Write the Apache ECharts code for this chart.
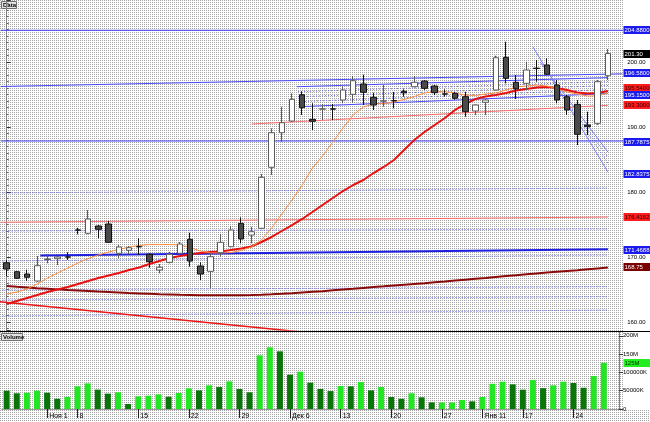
<!DOCTYPE html>
<html><head><meta charset="utf-8">
<script src="https://cdn.jsdelivr.net/npm/echarts@6/dist/echarts.min.js"></script>
<style>
html,body{margin:0;padding:0;background:#fff;}
#c{width:650px;height:422px;}
</style></head><body><div id="c"></div>
<script>
// ---------- data ----------
const categories = ['26','27','28','29','Ноя 1','2','3','8','9','10','11','12','13','15','16','17','18','19','22','23','24','25','26','29','30','1','2','3','Дек 6','7','8','9','10','13','14','15','16','17','20','21','22','23','24','27','28','29','30','Янв 11','12','13','14','17','18','19','20','21','24','25','26','27',''];
const labelIndices = [4,7,13,18,23,28,33,38,43,47,51,56];
// [open, close, low, high]
const candles = [
[169.12,168.15,167.08,169.54],[167.74,166.72,166.62,167.85],[167.38,166.88,166.31,168.05],[166.31,168.66,166.2,170.15],
[169.62,169.68,169.03,170.46],[169.74,170.0,168.77,170.2],[170.02,169.98,169.54,170.72],[174.17,174.13,173.49,174.5],
[173.65,175.85,173.5,177.23],[174.77,174.26,172.88,174.92],[175.08,172.26,172.2,175.54],[170.57,171.54,169.8,171.85],
[171.03,171.43,170.42,171.69],[171.6,171.56,170.31,172.88],[170.42,169.28,168.35,170.57],[168.0,168.42,167.49,168.92],
[169.18,170.42,169.03,170.81],[170.57,172.0,170.3,172.3],[172.72,169.38,168.51,173.74],[168.62,167.38,166.46,169.18],
[167.8,170.05,165.18,170.46],[170.66,172.26,170.05,173.54],[171.58,174.15,171.5,174.77],[175.18,172.77,172.1,176.11],
[173.38,173.89,172.1,174.66],[174.42,182.26,174.3,182.77],[183.8,189.12,182.62,189.8],[189.12,190.66,187.74,193.12],
[190.92,194.26,190.8,195.18],[194.97,192.97,191.85,195.49],[191.18,190.88,189.54,193.65],[192.75,192.79,191.08,193.54],
[192.79,192.75,191.08,193.54],[194.15,195.69,193.65,196.2],[195.03,197.12,193.74,197.85],[196.62,195.34,193.38,198.05],
[194.57,193.38,192.62,195.28],[193.98,194.02,193.12,196.46],[194.07,194.03,192.88,195.4],[195.5,195.25,194.66,195.8],
[196.2,196.88,196.1,197.85],[197.08,195.95,195.7,197.23],[196.31,195.28,194.92,196.46],[195.1,195.06,194.66,195.8],
[195.18,194.42,194.2,195.4],[194.66,192.35,191.58,195.43],[192.46,193.38,191.85,193.45],[193.8,194.15,191.85,194.3],
[195.69,200.66,195.6,200.97],[200.72,197.49,196.72,203.12],[196.88,195.85,194.31,198.0],[196.72,198.77,195.69,200.05],
[199.05,199.0,196.97,200.3],[199.54,198.11,198.0,200.57],[196.46,194.15,193.65,197.23],[194.66,192.62,191.85,194.92],
[193.49,188.88,187.23,194.15],[190.31,190.05,188.77,192.35],[190.57,196.97,190.3,197.23],[197.89,201.30,197.23,202.0]
];
// volume in millions
const volumes = [50,43,44.5,50,44.5,28,33,62,70,53,42,45.6,13.7,34.6,36.4,40,33.6,43.7,56.5,51,64.7,60,75.6,54.6,45.6,146.7,168.6,157.6,93.7,102,72,54.6,49,62.8,62,73.8,51,60,32.8,28,43,32,18.2,18,18,24.6,21,32.8,69,74.6,67.4,52.8,79,57,64.7,74.6,71,58,90,126.5];
const volumeUp = [0,0,1,1,0,0,1,1,1,0,0,1,0,1,1,1,0,1,1,0,1,0, 1,0,0,1,1,0,0,1,0,0,0,1,0,1,0,1,0,0,1,0,0, 1,1,1,0,1,1,1,0,0,1,0,1,1,0,0,1,1];
const maShort = [164.31,164.62,165.08,165.85,166.77,167.54,168.31,169.08,169.77,170.31,170.77,171.15,171.54,171.77,171.92,171.92,171.92,171.85,171.46,170.92,170.62,170.62,170.69,171.0,171.54,172.62,174.46,176.62,178.77,181.08,183.69,185.54,187.69,189.85,191.85,193.08,193.54,193.62,193.85,194.23,194.69,195.23,195.43,195.43,195.23,194.92,194.85,195.08,195.23,195.69,196.15,196.31,196.46,196.31,195.85,195.38,195.08,194.77,194.77,195.23];
const maMid = [162.77,163.23,163.69,164.15,164.62,165.0,165.38,165.85,166.31,166.77,167.15,167.54,168.0,168.38,168.92,169.38,169.85,170.15,170.38,170.62,170.77,170.85,171.08,171.31,171.62,172.31,173.08,174.0,174.92,175.85,176.92,178.0,179.08,180.15,181.08,181.85,182.92,183.85,184.92,186.46,188.0,189.23,190.31,191.38,192.62,193.54,194.31,194.69,194.92,195.23,195.62,195.85,196.08,196.15,196.0,195.69,195.31,195.15,195.23,195.54];
const maLong = [165.54,165.42,165.31,165.2,165.11,165.02,164.92,164.85,164.77,164.69,164.62,164.54,164.46,164.4,164.34,164.28,164.23,164.18,164.15,164.12,164.11,164.11,164.11,164.12,164.15,164.2,164.26,164.34,164.43,164.54,164.65,164.75,164.88,165.0,165.12,165.25,165.37,165.49,165.62,165.74,165.86,165.98,166.11,166.23,166.37,166.51,166.65,166.78,166.92,167.06,167.2,167.34,167.48,167.62,167.74,167.86,167.98,168.12,168.25,168.37];
// drawn study lines: [bar index, price] end points
const lineTopLevel = [[-0.7,204.88],[60.5,204.88]];
const lineMidLevel = [[-0.7,187.85],[60.5,187.85]];
const lineLongTrend = [[-0.7,196.23],[60.4,198.18]];
const lineChannelUp = [[28.49,196.2],[59.0,197.6]];
const lineChannelDown = [[28.78,193.12],[59.0,195.15]];
const lineChannelInner = [[[28.6,195.43],[59.0,196.98]],[[28.6,194.66],[59.0,196.38]],[[28.7,193.89],[59.0,195.77]]];
const lineRedTrend = [[24.04,190.46],[59.0,193.34]];
const lineRedLevel = [[-0.7,175.34],[59.0,176.15]];
const lineBlueLevel = [[3.3,170.23],[59.0,171.18]];
const lineRedFalling = [[-0.7,163.12],[59.0,153.74]];
const lineDotted = [[[-0.7,179.85],[59.0,180.62]],[[-0.7,174.0],[59.0,174.31]],[[-0.7,169.38],[59.0,170.31]],[[-0.7,164.92],[59.0,165.43]],[[-0.7,163.38],[59.0,163.89]],[[-0.7,160.92],[59.0,161.85]]];
const lineFanA = [[51.65,202.31],[59.0,183.08]];
const lineFanB = [[52.34,200.0],[59.0,186.15]];
const lineFanInner = [[[53.51,197.23],[59.0,184.46]],[[54.1,195.69],[59.0,185.38]]];
// price boxes on the right scale
const boxTexts = ['204.8800','201.30','196.5800','195.5400','195.1500','193.3000','187.7875','182.8375','176.4162','171.4688','168.75'];
const boxValues = [204.88,201.30,198.35,195.95,194.92,193.38,187.65,182.72,176.15,171.08,168.46];
const boxKinds = ['blue','black','blue','red','blue','red','blue','blue','red','blue','maroon'];
const volumeTicks = {0:'0',50:'50000K',100:'100000K',150:'150M',200:'200M'};
const volumeBoxText = '125M';
const volumeBoxValue = 125.7;

// ---------- background pattern ----------
const cv = document.createElement('canvas'); cv.width = 2; cv.height = 2;
const g = cv.getContext('2d'); g.fillStyle = '#ffffff'; g.fillRect(0,0,2,2);
g.fillStyle = '#a4a4a4'; g.fillRect(0,0,1,1);
document.getElementById('c').style.background = 'url(' + cv.toDataURL() + ')';

const FONT = 'Liberation Sans';
const kindStyle = {
  blue: {bg:'#1a1aee', fg:'#ffffff'},
  black: {bg:'#000000', fg:'#ffffff'},
  red: {bg:'#ff1c1c', fg:'#2a0000'},
  maroon: {bg:'#7a0000', fg:'#ffffff'},
  green: {bg:'#22ee22', fg:'#003300'}
};
function seg(data, color, width, type, z){
  return {type:'line', xAxisIndex:2, yAxisIndex:0, data:data, symbol:'none', silent:true,
    lineStyle:{color:color, width:width, type:type||'solid'}, z:z||2, animation:false};
}

const series = [];
lineDotted.forEach(d => series.push(seg(d,'#4b4bff',1,[1,2],1)));
lineChannelInner.forEach(d => series.push(seg(d,'#6060ff',1,[1,2],1)));
lineFanInner.forEach(d => series.push(seg(d,'#6060ff',1,[1,2],1)));
series.push(seg(lineTopLevel,'#3a3aff',1));
series.push(seg(lineMidLevel,'#3a3aff',1));
series.push(seg(lineLongTrend,'#4848ff',1));
series.push(seg(lineChannelUp,'#4848ff',1));
series.push(seg(lineChannelDown,'#4848ff',1));
series.push(seg(lineFanA,'#7a7aff',1));
series.push(seg(lineFanB,'#7a7aff',1));
series.push(seg(lineRedLevel,'#ff6a6a',1));
series.push(seg(lineRedTrend,'#ff6a6a',1));
series.push(seg(lineBlueLevel,'#1e1ee0',2));
series.push(seg(lineRedFalling,'#ee1414',1.5));
series.push({type:'line', xAxisIndex:0, yAxisIndex:0, data:maLong, symbol:'none', silent:true, lineStyle:{color:'#8a0a0a', width:2}, z:3});
series.push({type:'line', xAxisIndex:0, yAxisIndex:0, data:maMid, symbol:'none', silent:true, lineStyle:{color:'#e81010', width:2}, z:3});
series.push({type:'line', xAxisIndex:0, yAxisIndex:0, data:maShort, symbol:'none', silent:true, lineStyle:{color:'#ff8a3a', width:1}, z:3});
series.push({type:'candlestick', xAxisIndex:0, yAxisIndex:0, data:candles, barWidth:6, silent:true, z:5,
  itemStyle:{color:'#ffffff', color0:'#4a4a4a', borderColor:'#5a5a5a', borderColor0:'#111111', borderWidth:1}});
series.push({type:'bar', xAxisIndex:1, yAxisIndex:1, barWidth:6, silent:true,
  data: volumes.map((v,i) => ({value:v, itemStyle:{color: volumeUp[i] ? '#22e622' : '#0a760a'}}))});

const showLabel = (idx) => labelIndices.indexOf(idx) >= 0;
const chart = echarts.init(document.getElementById('c'), null, {renderer:'canvas'});
chart.setOption({
  animation:false,
  backgroundColor:'transparent',
  grid:[
    {left:1.6, top:0, width:621.6, height:330},
    {left:1.6, top:332, width:621.6, height:77}
  ],
  xAxis:[
    {type:'category', gridIndex:0, data:categories, show:false},
    {type:'category', gridIndex:1, data:categories,
      axisLine:{show:true, lineStyle:{color:'#9a9a9a'}},
      axisTick:{show:true, alignWithLabel:true, interval:(i)=>showLabel(i), length:9, lineStyle:{color:'#222'}},
      axisLabel:{interval:(i)=>showLabel(i), align:'left', padding:[0,0,0,2], fontSize:7, fontFamily:FONT, color:'#000', margin:4}},
    {type:'value', gridIndex:0, min:-0.5, max:60.5, show:false}
  ],
  yAxis:[
    {type:'value', gridIndex:0, position:'right', min:158.77, max:209.54, splitLine:{show:false},
      axisLine:{show:true, lineStyle:{color:'#808080'}},
      axisTick:{show:true, length:4, lineStyle:{color:'#333'}},
      minorTick:{show:true, splitNumber:10, length:2, lineStyle:{color:'#666'}},
      axisLabel:{showMinLabel:false, showMaxLabel:false, formatter:(v)=>v.toFixed(2), fontSize:6, fontFamily:FONT, color:'#000', margin:4}},
    {type:'value', gridIndex:1, position:'right', min:0, max:210.4, interval:50, splitLine:{show:false},
      axisLine:{show:true, lineStyle:{color:'#808080'}},
      axisTick:{show:true, length:4, lineStyle:{color:'#333'}},
      axisLabel:{showMaxLabel:false, formatter:(v)=>volumeTicks[v] !== undefined ? volumeTicks[v] : '', fontSize:6, fontFamily:FONT, color:'#000', margin:4}}
  ],
  series: series
});

// value boxes on the right scale, positioned through the axes
function box(yPix, text, kind){
  const s = kindStyle[kind];
  return {type:'group', x:623.5, y:Math.round(yPix) - 4, z:60, children:[
    {type:'rect', shape:{x:0, y:0, width:26.5, height:8}, style:{fill:s.bg}},
    {type:'text', style:{x:1, y:4.5, text:text, fontSize:6, fontFamily:FONT, fill:s.fg, verticalAlign:'middle', align:'left'}}
  ]};
}
const graphics = [
  {type:'rect', z:-10, shape:{x:623.2, y:0, width:27, height:410}, style:{fill:'#ffffff'}},
  {type:'line', z:50, shape:{x1:0, y1:331.5, x2:650, y2:331.5}, style:{stroke:'#000', lineWidth:1}},
  {type:'group', z:50, children:[
    {type:'rect', shape:{x:1.5, y:1.5, width:15, height:7}, style:{fill:'#e4e4e4', stroke:'#707070', lineWidth:1}},
    {type:'text', style:{x:3, y:2, text:'Data', fontSize:6, fontFamily:FONT, fontWeight:'bold', fill:'#000'}}
  ]},
  {type:'group', z:50, children:[
    {type:'rect', shape:{x:1.5, y:333.5, width:21, height:7}, style:{fill:'#e4e4e4', stroke:'#707070', lineWidth:1}},
    {type:'text', style:{x:3, y:334, text:'Volume', fontSize:6, fontFamily:FONT, fontWeight:'bold', fill:'#000'}}
  ]}
];
boxTexts.forEach((t,i) => {
  const y = chart.convertToPixel({yAxisIndex:0}, boxValues[i]);
  graphics.push(box(y, t, boxKinds[i]));
});
graphics.push(box(chart.convertToPixel({yAxisIndex:1}, volumeBoxValue), volumeBoxText, 'green'));
chart.setOption({graphic: graphics});
</script></body></html>
